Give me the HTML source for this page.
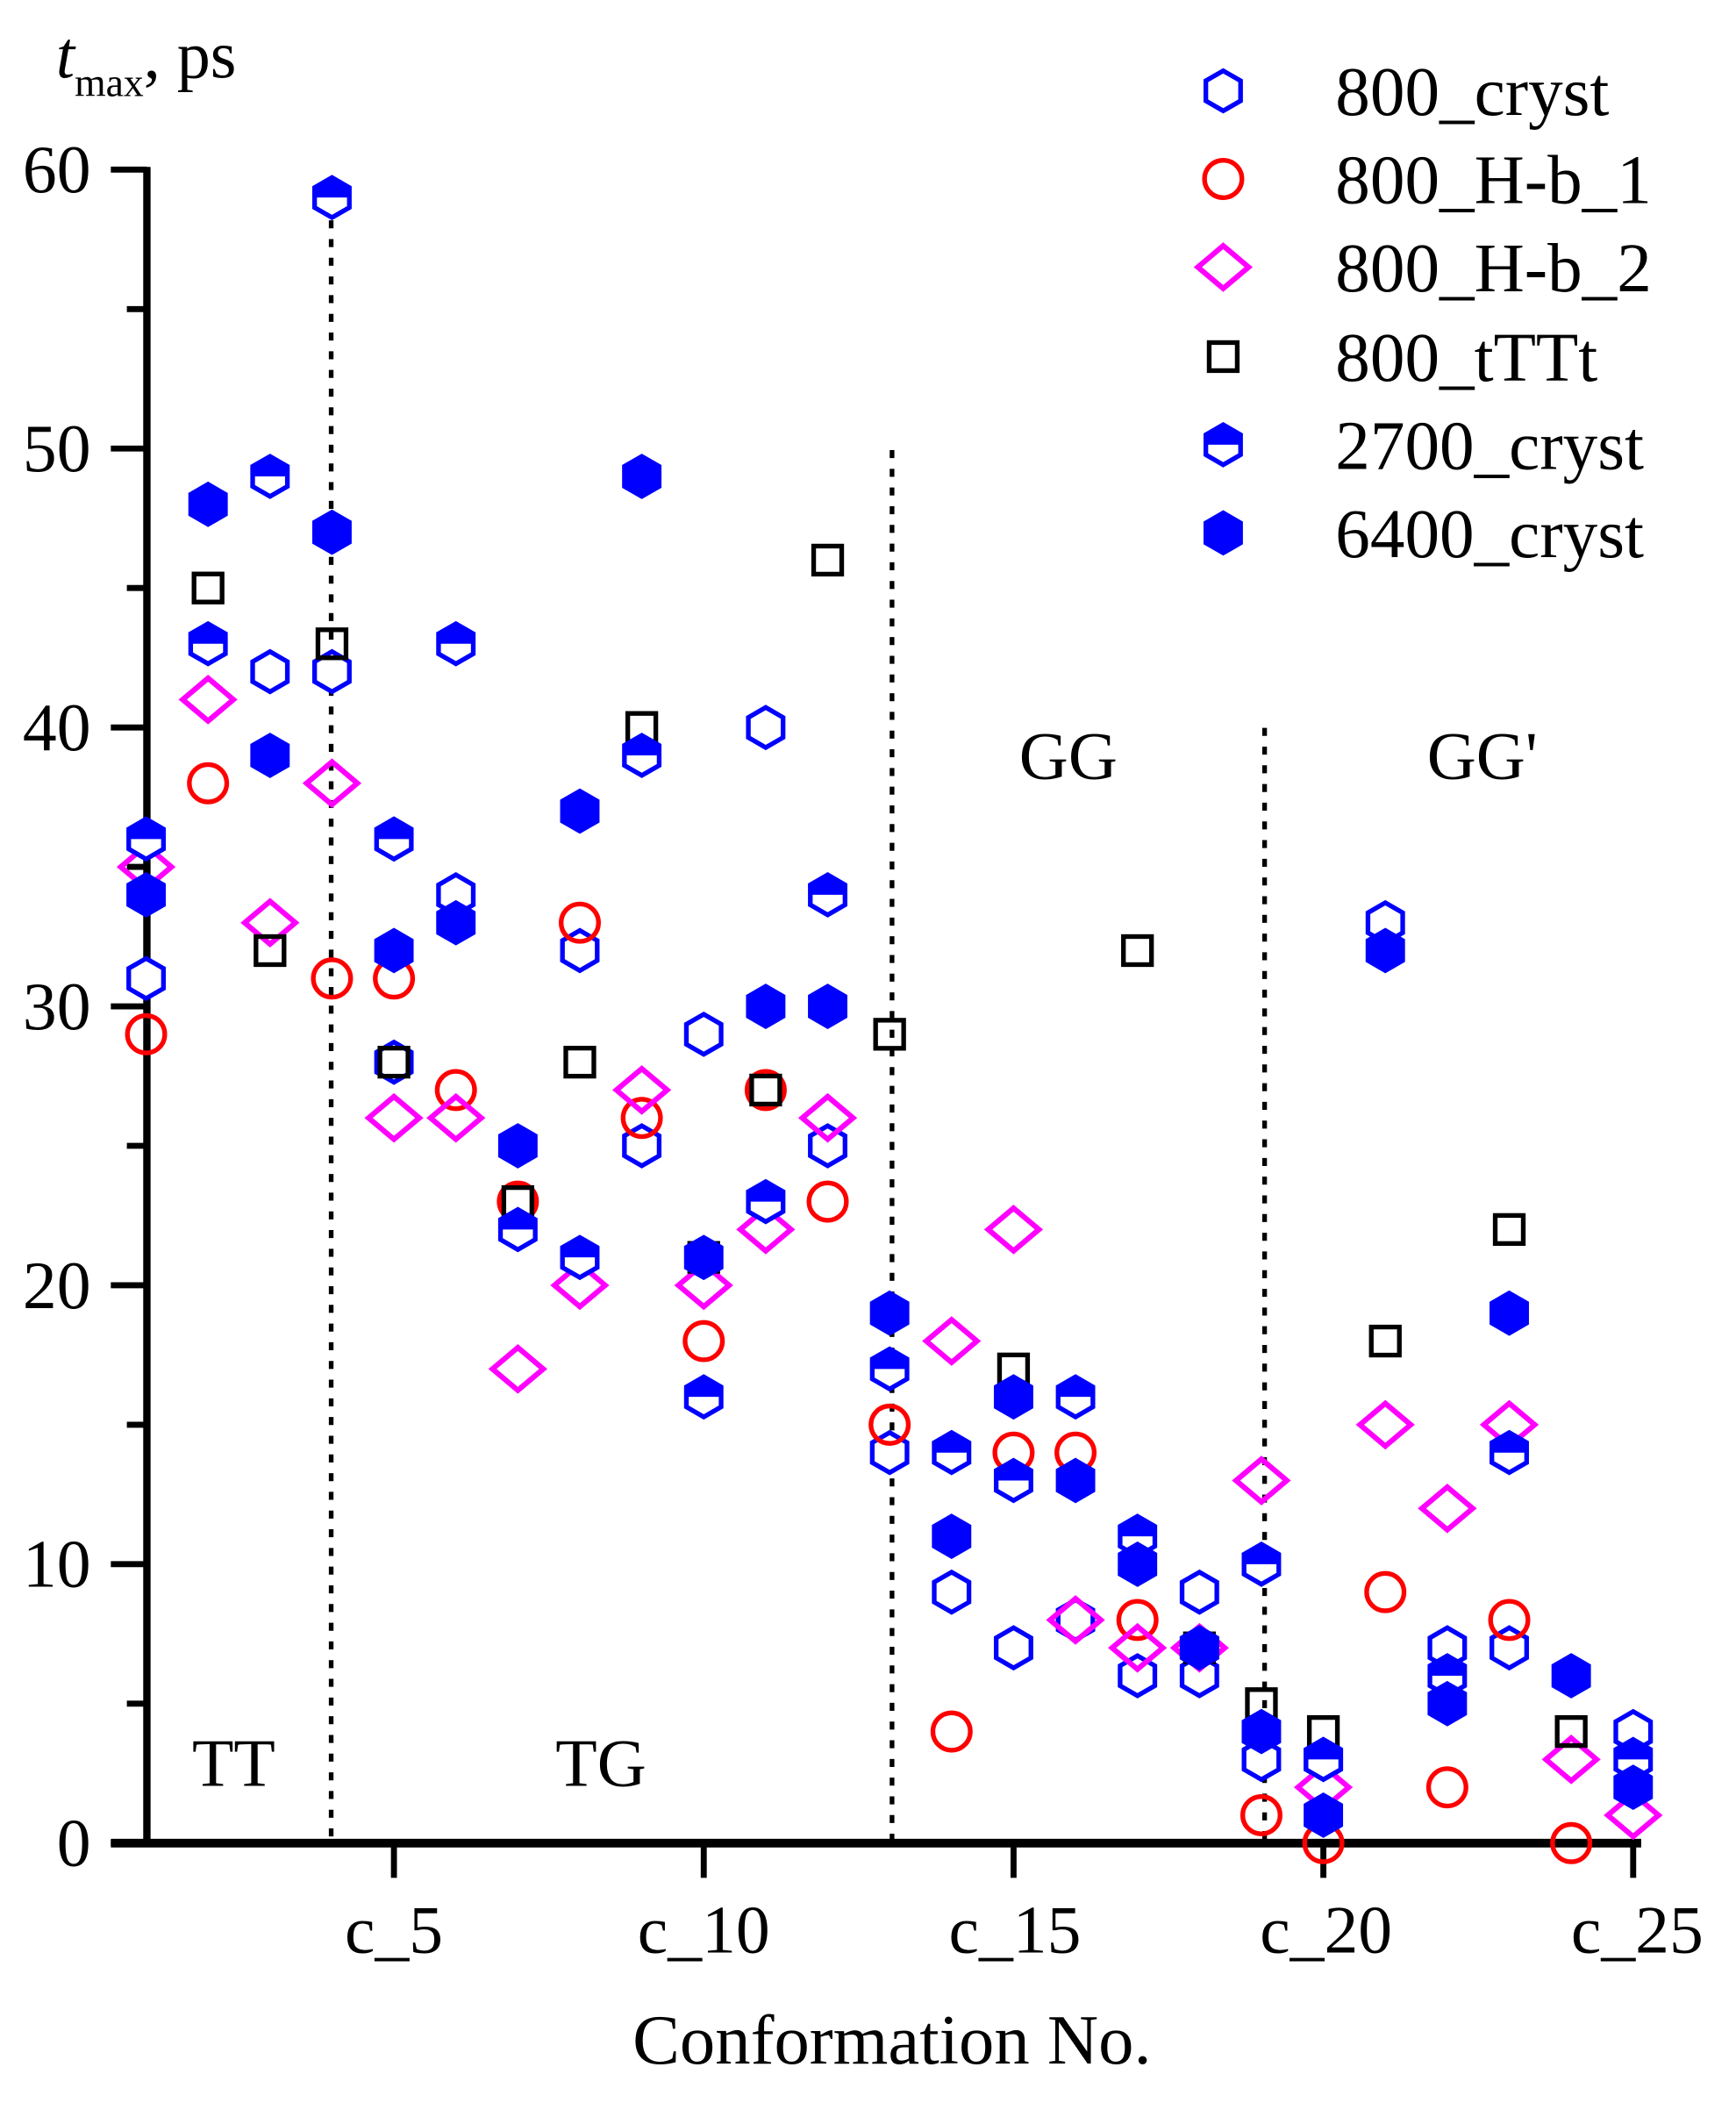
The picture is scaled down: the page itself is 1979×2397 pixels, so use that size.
<!DOCTYPE html>
<html><head><meta charset="utf-8"><style>html,body{margin:0;padding:0;background:#fff}svg{display:block}</style></head>
<body>
<svg id="s" width="1979" height="2397" viewBox="0 0 1300 1574.6" preserveAspectRatio="none" xmlns="http://www.w3.org/2000/svg" font-family="Liberation Serif, serif">
<g id="axes" stroke="#000" fill="none">
<line x1="110" y1="125" x2="110" y2="1383" stroke-width="5.5"/>
<line x1="83" y1="1380" x2="1229" y2="1380" stroke-width="6.5"/>
</g>
<g stroke="#000" stroke-width="3.5" stroke-dasharray="6,8" fill="none">
<line x1="248" y1="137" x2="248" y2="1380"/>
<line x1="668" y1="337" x2="668" y2="1380"/>
<line x1="947" y1="545" x2="947" y2="1380"/>
</g>
<g id="ticks" stroke="#000" stroke-width="4.5"></g>
<g font-size="51" fill="#000" text-anchor="end" id="ylab"></g>
<g font-size="51" fill="#000" text-anchor="middle">
<text x="295" y="1462">c_5</text><text x="527" y="1462">c_10</text><text x="760" y="1462">c_15</text><text x="993" y="1462">c_20</text><text x="1226" y="1462">c_25</text>
<text x="668" y="1545" font-size="53">Conformation No.</text>
<text x="175" y="1337">TT</text><text x="450" y="1337">TG</text>
<text x="800" y="583">GG</text><text x="1110" y="583">GG'</text>
</g>
<text x="42" y="58" font-size="50"><tspan font-style="italic">t</tspan><tspan font-size="30" dy="14">max</tspan><tspan dy="-14">, ps</tspan></text>
<g id="pts"></g>
<g font-size="52" fill="#000">
<text x="1000" y="86">800_cryst</text><text x="1000" y="152">800_H-b_1</text><text x="1000" y="218">800_H-b_2</text>
<text x="1000" y="285">800_tTTt</text><text x="1000" y="351">2700_cryst</text><text x="1000" y="417">6400_cryst</text>
</g>
</svg>
<script>
var NS="http://www.w3.org/2000/svg";
function el(p,t,a){var e=document.createElementNS(NS,t);for(var k in a)e.setAttribute(k,a[k]);p.appendChild(e);return e;}
var tk=document.getElementById('ticks'),yl=document.getElementById('ylab'),pts=document.getElementById('pts');
function Y(v){return 1380-v*20.883;}
function X(i){return 109.4+46.4*(i-1);}
for(var v=0;v<=60;v+=5){var y=Y(v);el(tk,'line',{x1:v%10?95:83,y1:y,x2:110,y2:y});if(v%10==0){var t=el(yl,'text',{x:68,y:y+17});t.textContent=v;}}
for(var i=5;i<=25;i+=5)el(tk,'line',{x1:X(i),y1:1380,x2:X(i),y2:1406});
var B="#0000ff",R=15;
function hex(x,y,r){var p=[];for(var k=0;k<6;k++){var a=Math.PI/3*k-Math.PI/2;p.push((x+r*Math.cos(a)).toFixed(1)+","+(y+r*Math.sin(a)).toFixed(1));}return p.join(" ");}
function open(x,y){el(pts,'polygon',{points:hex(x,y,R),fill:'#fff',stroke:B,'stroke-width':3.5});}
function half(x,y){var w=R*0.866;el(pts,'polygon',{points:hex(x,y,R),fill:'#fff',stroke:B,'stroke-width':3.5});
 el(pts,'polygon',{points:[x+','+(y-R),(x+w)+','+(y-R/2),(x+w)+','+y,(x-w)+','+y,(x-w)+','+(y-R/2)].join(' '),fill:B});}
function full(x,y){el(pts,'polygon',{points:hex(x,y,R),fill:B,stroke:B,'stroke-width':3.5});}
function circ(x,y){el(pts,'circle',{cx:x,cy:y,r:14,fill:'none',stroke:'#ff0000','stroke-width':3.5});}
function dia(x,y){el(pts,'polygon',{points:[x+','+(y-16),(x+19)+','+y,x+','+(y+16),(x-19)+','+y].join(' '),fill:'none',stroke:'#ff00ff','stroke-width':4});}
function sq(x,y){el(pts,'rect',{x:x-10.5,y:y-10.5,width:21,height:21,fill:'none',stroke:'#000','stroke-width':3.5});}
var sqD=[[2,45],[3,32],[4,43],[5,28],[7,23],[8,28],[9,40],[10,21],[11,27],[12,46],[13,29],[15,17],[17,32],[18,7],[19,5],[20,4],[21,18],[23,22],[24,4]];
var ciD=[[1,29],[2,38],[4,31],[5,31],[6,27],[7,23],[8,33],[9,26],[10,18],[11,27],[12,23],[13,15],[14,4],[15,14],[16,14],[17,8],[19,1],[20,0],[21,9],[22,2],[23,8],[24,0]];
var diD=[[1,35],[2,41],[3,33],[4,38],[5,26],[6,26],[7,17],[8,20],[9,27],[10,20],[11,22],[12,26],[14,18],[15,22],[16,8],[17,7],[18,7],[19,13],[20,2],[21,15],[22,12],[23,15],[24,3],[25,1]];
var opD=[[1,31],[3,42],[4,42],[5,28],[6,34],[8,32],[9,25],[10,29],[11,40],[12,25],[13,14],[14,9],[15,7],[16,8],[17,6],[18,9],[18,6],[19,3],[20,3],[21,33],[22,7],[23,7],[25,4]];
var haD=[[1,36],[2,43],[3,49],[4,59],[5,36],[6,43],[7,22],[8,21],[9,39],[10,16],[11,23],[12,34],[13,17],[14,14],[15,13],[16,16],[17,11],[18,7],[19,10],[20,3],[22,6],[23,14],[25,3]];
var fuD=[[1,34],[2,48],[3,39],[4,47],[5,32],[6,33],[7,25],[8,37],[9,49],[10,21],[11,30],[12,30],[13,19],[14,11],[15,16],[16,13],[17,10],[18,7],[19,4],[20,1],[21,32],[22,5],[23,19],[24,6],[25,2]];
opD.forEach(function(d){open(X(d[0]),Y(d[1]));});
ciD.forEach(function(d){circ(X(d[0]),Y(d[1]));});
diD.forEach(function(d){dia(X(d[0]),Y(d[1]));});
sqD.forEach(function(d){sq(X(d[0]),Y(d[1]));});
haD.forEach(function(d){half(X(d[0]),Y(d[1]));});
fuD.forEach(function(d){full(X(d[0]),Y(d[1]));});
open(916,68);circ(916,134);dia(916,200);sq(916,267);half(916,333);full(916,399);
</script>
</body></html>
